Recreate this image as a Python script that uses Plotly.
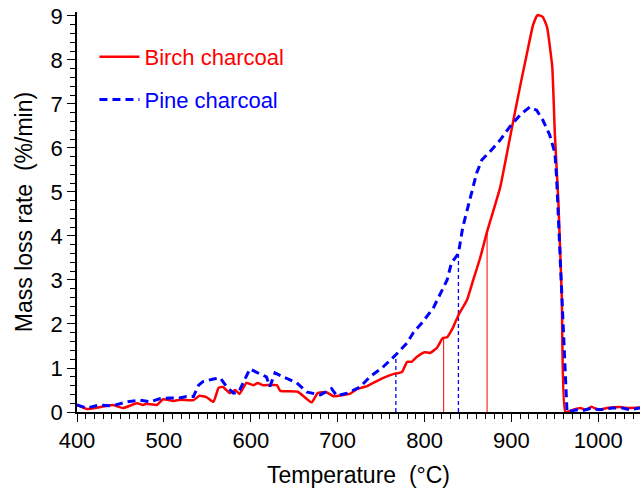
import plotly.graph_objects as go

# ---- data ----
birch_T = [400, 411, 426, 441, 453, 469, 476, 480, 492, 499, 511, 519, 534, 541, 549, 557, 563, 568, 576, 582,
           587, 595, 603, 608, 614, 630, 634, 654, 670, 677, 687, 695, 708, 714, 722, 734, 752, 764, 774, 780,
           785, 791, 800, 806, 814, 821, 826, 833, 839, 849, 856, 864, 872, 887, 898, 910, 918, 925, 930, 936,
           941, 947, 950, 954, 958, 962, 971, 979, 987, 992, 1000, 1010, 1027, 1034, 1048]
birch_v = [0.16, 0.07, 0.11, 0.16, 0.09, 0.20, 0.16, 0.19, 0.16, 0.29, 0.25, 0.28, 0.27, 0.37, 0.34, 0.23, 0.55, 0.57, 0.43, 0.50,
           0.41, 0.66, 0.61, 0.66, 0.61, 0.61, 0.48, 0.46, 0.22, 0.43, 0.45, 0.36, 0.39, 0.41, 0.52, 0.59, 0.77, 0.86, 0.91, 1.14,
           1.14, 1.25, 1.36, 1.34, 1.45, 1.68, 1.70, 1.93, 2.20, 2.55, 3.00, 3.50, 4.10, 5.10, 6.20, 7.40, 8.16, 8.80, 9.02, 8.98,
           8.75, 7.84, 6.32, 4.80, 2.60, 0.00, 0.05, 0.09, 0.05, 0.12, 0.05, 0.09, 0.11, 0.09, 0.10]

pine_T = [400, 411, 426, 441, 457, 472, 484, 495, 507, 518, 526, 534, 540, 545, 557, 565, 572, 580, 586, 592,
          599, 608, 618, 622, 628, 637, 653, 665, 680, 693, 699, 711, 726, 737, 751, 767, 780, 787, 798, 810,
          818, 826, 831, 839, 844, 852, 860, 866, 875, 887, 898, 910, 921, 929, 936, 944, 950, 952, 954, 956,
          958, 964, 975, 982, 992, 1002, 1016, 1028, 1036, 1048]
pine_v = [0.16, 0.09, 0.16, 0.14, 0.23, 0.27, 0.23, 0.30, 0.32, 0.32, 0.35, 0.35, 0.61, 0.69, 0.75, 0.77, 0.58, 0.43, 0.45, 0.69,
          0.98, 0.89, 0.80, 0.58, 0.89, 0.80, 0.66, 0.45, 0.39, 0.53, 0.37, 0.43, 0.57, 0.80, 1.00, 1.30, 1.57, 1.80, 2.05, 2.36,
          2.70, 3.00, 3.39, 3.60, 4.20, 4.82, 5.43, 5.73, 5.91, 6.18, 6.48, 6.75, 6.93, 6.86, 6.64, 6.30, 5.89, 5.34, 4.43, 3.30,
          2.60, 0.00, 0.05, 0.03, 0.09, 0.05, 0.09, 0.09, 0.05, 0.09]

# marker drop-lines (temperature, rate at that temperature)
birch_mark_T = [822, 872]
birch_mark_v = [1.70, 4.10]
pine_mark_T = [767, 839]
pine_mark_v = [1.30, 3.60]

x_ticks = [400, 500, 600, 700, 800, 900, 1000]
y_ticks = [0, 1, 2, 3, 4, 5, 6, 7, 8, 9]

FONT = "Liberation Sans, Arial, sans-serif"


def drops(ts, vs):
    xs, ys = [], []
    for t, v in zip(ts, vs):
        xs += [t, t, None]
        ys += [0, v, None]
    return xs, ys


fig = go.Figure()

bx, by = drops(birch_mark_T, birch_mark_v)
px, py = drops(pine_mark_T, pine_mark_v)
fig.add_trace(go.Scatter(x=bx, y=by, mode="lines", line=dict(color="#ff0000", width=1),
                         showlegend=False, hoverinfo="skip"))
fig.add_trace(go.Scatter(x=px, y=py, mode="lines", line=dict(color="#0000ff", width=1.3, dash="4px,3px"),
                         showlegend=False, hoverinfo="skip"))

fig.add_trace(go.Scatter(x=birch_T, y=birch_v, mode="lines",
                         name="<span style='color:#ff0000'>Birch charcoal</span>",
                         legendgroup="a",
                         line=dict(color="#ff0000", width=2.5, shape="spline", smoothing=0.4)))
fig.add_trace(go.Scatter(x=pine_T, y=pine_v, mode="lines",
                         name="<span style='color:#0000ff'>Pine charcoal</span>",
                         legendgroup="b",
                         line=dict(color="#0000ff", width=3, dash="8px,5px")))

axis_common = dict(
    showline=True, linecolor="black", linewidth=1.5, mirror=False,
    showgrid=False, zeroline=False, automargin=False, ticklabeloverflow="allow",
    ticks="outside", ticklen=8, tickwidth=1.3, tickcolor="black",
    tickfont=dict(family=FONT, size=22, color="black"),
)

fig.update_layout(
    width=640, height=493,
    margin=dict(l=77, r=0, t=12, b=81),
    paper_bgcolor="white", plot_bgcolor="white",
    font=dict(family=FONT, color="black"),
    showlegend=True,
    legend=dict(x=0.031, y=0.94, xanchor="left", yanchor="top",
                font=dict(family=FONT, size=22), itemwidth=40,
                bgcolor="rgba(0,0,0,0)", traceorder="grouped", tracegroupgap=11),
    xaxis=dict(range=[400, 1048], tickvals=x_ticks,
               minor=dict(dtick=10, ticklen=5, tickwidth=1, tickcolor="black", ticks="outside", showgrid=False),
               title=dict(text="Temperature  (°C)", font=dict(family=FONT, size=23), standoff=15),
               **axis_common),
    yaxis=dict(range=[0, 9.09], tickvals=y_ticks,
               minor=dict(dtick=0.2, ticklen=5, tickwidth=1, tickcolor="black", ticks="outside", showgrid=False),
               title=dict(text="Mass loss rate  (%/min)", font=dict(family=FONT, size=23), standoff=12),
               **axis_common),
)

# remove the default page margin so the 640x493 figure fills the window exactly
fig.write_html("out.html", config={"displayModeBar": False},
               post_script="document.body.style.margin='0';document.body.style.overflow='hidden';")
